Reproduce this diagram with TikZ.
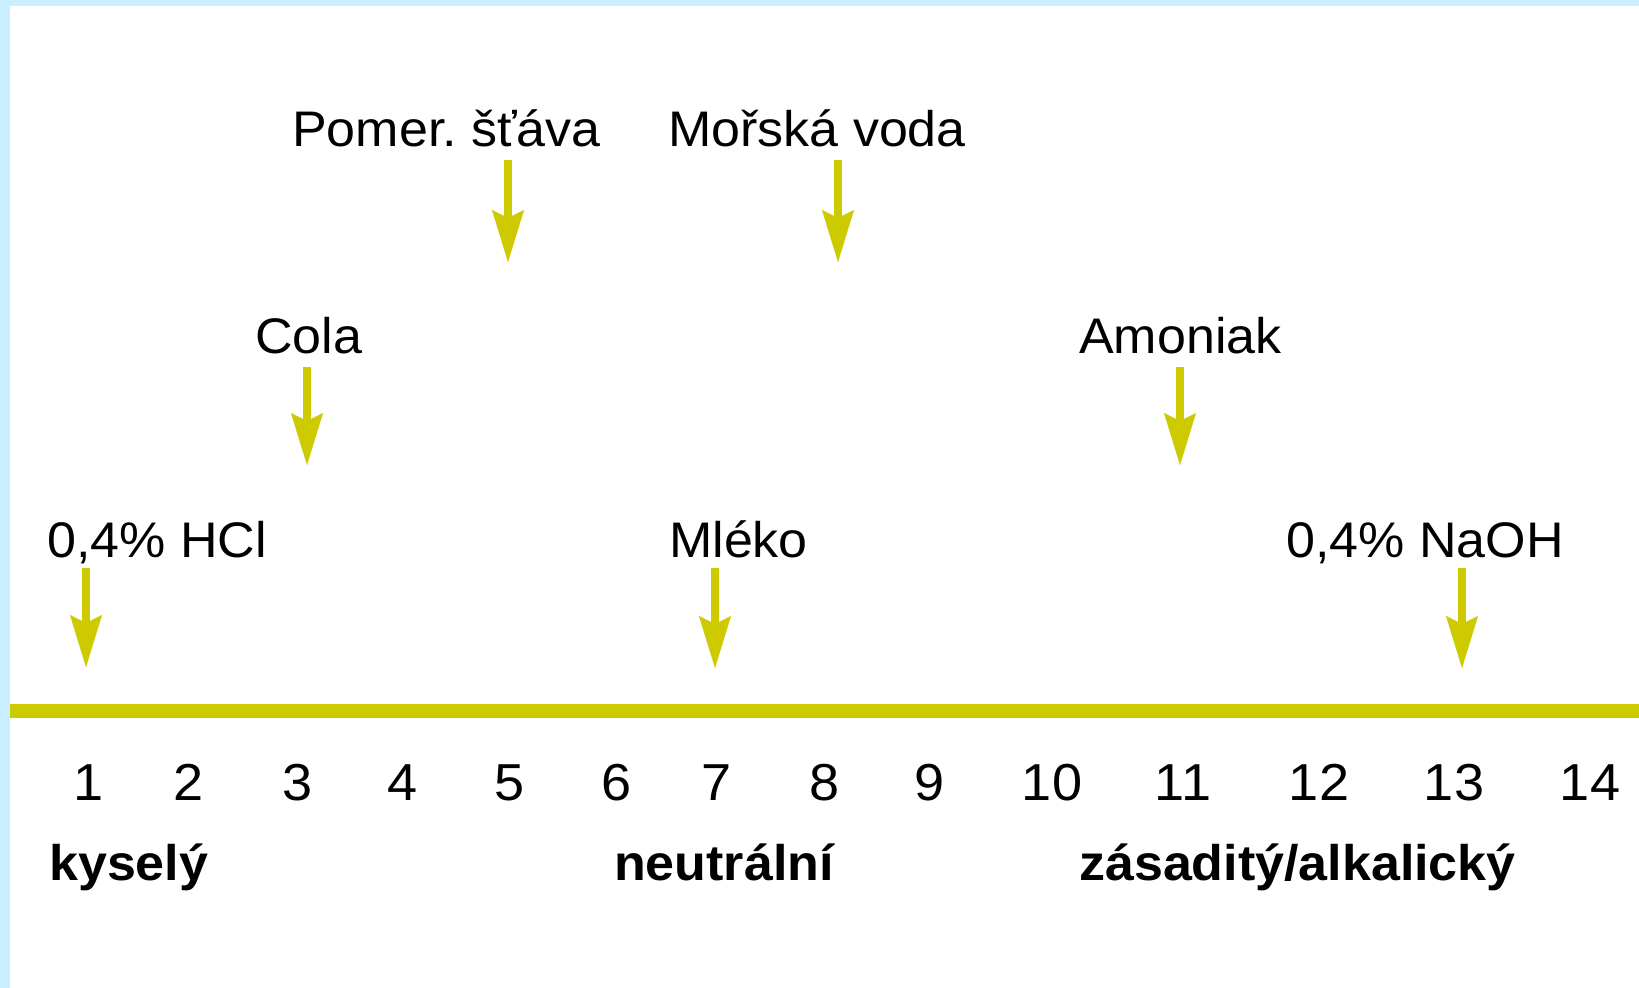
\documentclass[tikz,border=0pt]{standalone}
\usepackage{fontspec}
\setmainfont[FakeStretch=1.04]{Liberation Sans}
\usetikzlibrary{arrows.meta}
\definecolor{framecol}{RGB}{200,238,255}
\definecolor{phyellow}{RGB}{206,202,0}
\begin{document}
\begin{tikzpicture}[x=1pt,y=-1pt,
  sample/.style={anchor=base west, inner sep=0pt, font=\fontsize{50}{60}\selectfont},
  num/.style={anchor=base, inner sep=0pt, font=\fontsize{52}{60}\selectfont},
  zone/.style={anchor=base west, inner sep=0pt, font=\fontsize{50}{60}\selectfont\bfseries},
  marker/.style={draw=phyellow, line width=8pt,
    -{Stealth[length=52pt,width=32pt,inset=8pt,line width=0.1pt,fill=phyellow]}},
  axis/.style={draw=phyellow, line width=14pt}]
% canvas and light frame strips
\fill[white] (0,0) rectangle (1639,988);
\useasboundingbox (0,0) rectangle (1639,988);
\fill[framecol] (0,0) rectangle (1639,6);
\fill[framecol] (0,0) rectangle (10,988);

% pH axis
\coordinate (axis-l) at (10,711);
\coordinate (axis-r) at (1639,711);
\draw[axis] (axis-l) -- (axis-r);

% scale numbers
\foreach \v/\x in {1/89,2/189,3/298,4/403,5/510,6/617,7/717,8/825,9/930,10/1052,11/1183,12/1319,13/1454,14/1590}
  \node[num] (n\v) at (\x,800) {\v};

% regions
\node[zone] (acid) at (49,880) {kyselý};
\node[zone] (neutral) at (614,880) {neutrální};
\node[zone] (base) at (1079,880) {zásaditý/alkalický};

% samples
\node[sample] (hcl) at (47,557) {0,4\% HCl};
\node[sample] (cola) at (255,353) {Cola};
\node[sample] (juice) at (292,146) {Pomer.\ šťáva};
\node[sample] (sea) at (668,146) {Mořská voda};
\node[sample] (ammonia) at (1079,353) {Amoniak};
\node[sample] (milk) at (669,557) {Mléko};
\node[sample] (naoh) at (1286,557) {0,4\% NaOH};

% arrow ends
\coordinate (hcl-s) at (86,568);   \coordinate (hcl-t) at (86,667);
\coordinate (cola-s) at (307,367); \coordinate (cola-t) at (307,465);
\coordinate (juice-s) at (508,160); \coordinate (juice-t) at (508,262);
\coordinate (sea-s) at (838,160);  \coordinate (sea-t) at (838,262);
\coordinate (ammonia-s) at (1180,367); \coordinate (ammonia-t) at (1180,465);
\coordinate (milk-s) at (715,568); \coordinate (milk-t) at (715,668);
\coordinate (naoh-s) at (1462,568); \coordinate (naoh-t) at (1462,668);

\foreach \s in {hcl,cola,juice,sea,ammonia,milk,naoh}
  \draw[marker] (\s-s) -- (\s-t);
\end{tikzpicture}
\end{document}
